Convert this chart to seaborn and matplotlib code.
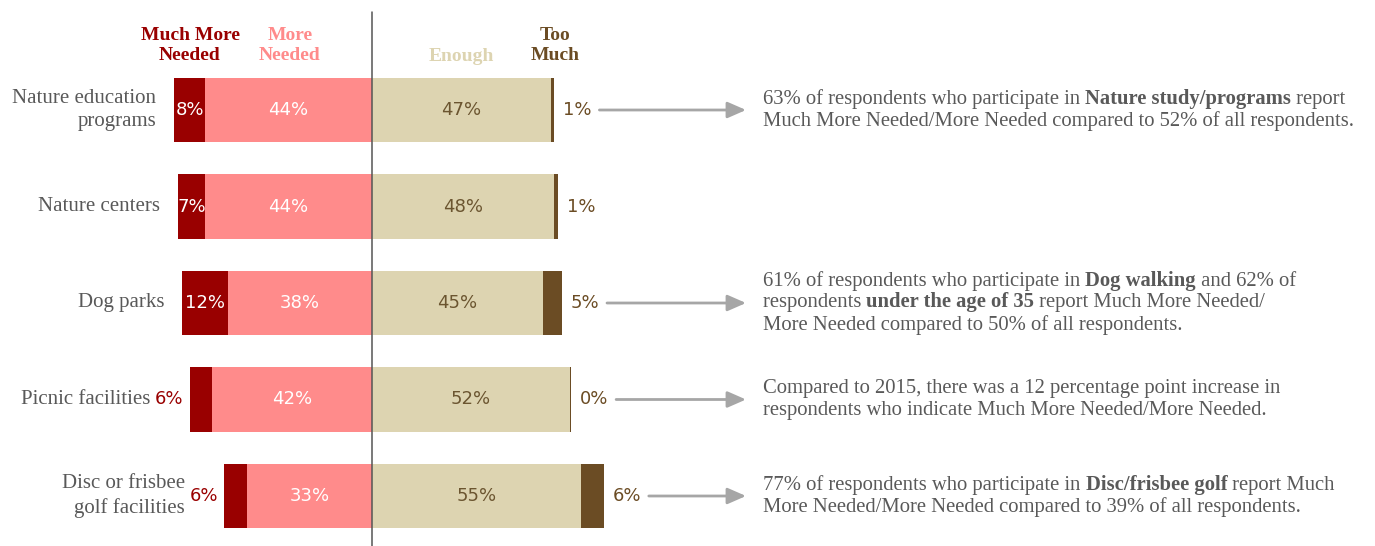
import matplotlib
matplotlib.use("Agg")
import matplotlib.pyplot as plt
import seaborn as sns
import pandas as pd

categories = ["Nature education\nprograms", "Nature centers", "Dog parks",
              "Picnic facilities", "Disc or frisbee\ngolf facilities"]
much_more_needed = [8, 7, 12, 6, 6]
more_needed = [44, 44, 38, 42, 33]
enough = [47, 48, 45, 52, 55]
too_much = [1, 1, 5, 0.4, 6]

header_labels = ["Much More\nNeeded", "More\nNeeded", "Enough", "Too\nMuch"]

notes = {
    0: [[("63% of respondents who participate in ", False), ("Nature study/programs", True), (" report", False)],
        [("Much More Needed/More Needed compared to 52% of all respondents.", False)]],
    2: [[("61% of respondents who participate in ", False), ("Dog walking", True), (" and 62% of", False)],
        [("respondents ", False), ("under the age of 35", True), (" report Much More Needed/", False)],
        [("More Needed compared to 50% of all respondents.", False)]],
    3: [[("Compared to 2015, there was a 12 percentage point increase in", False)],
        [("respondents who indicate Much More Needed/More Needed.", False)]],
    4: [[("77% of respondents who participate in ", False), ("Disc/frisbee golf", True), (" report Much", False)],
        [("More Needed/More Needed compared to 39% of all respondents.", False)]],
}

C_MMN = "#990000"
C_MN = "#FF8B8B"
C_EN = "#DDD4B1"
C_TM = "#6B4C24"
C_TXT = "#595959"
C_ENTXT = "#6B5530"
C_ARROW = "#A6A6A6"

SERIF = "Liberation Serif"
SANS = "DejaVu Sans"

sns.set_theme(style="white")
W, H = 1375, 546
fig = plt.figure(figsize=(W / 100, H / 100), dpi=100)
ax = fig.add_axes([0, 0, 1, 1])

df = pd.DataFrame({"cat": categories, "mmn": much_more_needed, "mn": more_needed,
                   "en": enough, "tm": too_much})
df["left_total"] = -(df["mmn"] + df["mn"])
df["left_mn"] = -df["mn"]
df["right_total"] = df["en"] + df["tm"]

BW = 0.67
common = dict(y="cat", orient="h", width=BW, saturation=1, linewidth=0, errorbar=None, ax=ax)
sns.barplot(data=df, x="left_total", color=C_MMN, **common)
sns.barplot(data=df, x="left_mn", color=C_MN, **common)
sns.barplot(data=df, x="right_total", color=C_TM, **common)
sns.barplot(data=df, x="en", color=C_EN, **common)

PX = 3.8          # pixels per percent
X0 = 372          # pixel of zero line
ROW0, ROWH = 110, 96.5

ax.set_xlim(-X0 / PX, (W - X0) / PX)
ax.set_ylim((H - ROW0) / ROWH, -ROW0 / ROWH)
ax.axis("off")

def py(ypx):
    return (ypx - ROW0) / ROWH

def pxx(xpx):
    return (xpx - X0) / PX

# center line
ax.plot([0, 0], [py(12), py(H)], color="#555555", lw=1.1, zorder=5)

pct_fs = 13
for i, r in df.iterrows():
    total_left = r["mmn"] + r["mn"]
    ax.text(-r["mn"] / 2, i, f"{r['mn']:.0f}%", color="white", ha="center", va="center",
            fontsize=pct_fs, family=SANS)
    if r["mmn"] >= 7:
        ax.text(-(r["mn"] + r["mmn"] / 2), i, f"{r['mmn']:.0f}%", color="white", ha="center",
                va="center", fontsize=pct_fs, family=SANS)
        cat_off = -18
    else:
        ax.annotate(f"{r['mmn']:.0f}%", xy=(-total_left, i), xytext=(-6, 0), textcoords="offset pixels",
                    color=C_MMN, ha="right", va="center", fontsize=pct_fs, family=SANS)
        cat_off = -39
    ax.annotate(r["cat"], xy=(-total_left, i), xytext=(cat_off, 0), textcoords="offset pixels",
                color=C_TXT, ha="right", va="center", fontsize=15, family=SERIF,
                multialignment="right", linespacing=1.3)
    ax.text(r["en"] / 2, i, f"{r['en']:.0f}%", color=C_ENTXT, ha="center", va="center",
            fontsize=pct_fs, family=SANS)
    ax.annotate(f"{r['tm']:.0f}%", xy=(r["right_total"], i), xytext=(9, 0), textcoords="offset pixels",
                color=C_TM, ha="left", va="center", fontsize=pct_fs, family=SANS)

# headers
hdr_pos = [(190, 45.5, C_MMN), (290, 45.5, C_MN), (461, 56, C_EN), (555, 45.5, C_TM)]
for lab, (xp, yp, c) in zip(header_labels, hdr_pos):
    ax.text(pxx(xp), py(yp), lab, color=c, ha="center", va="center", fontsize=14,
            fontweight="bold", family=SERIF, linespacing=1.3)

# notes with arrows
for i, lines in notes.items():
    r = df.iloc[i]
    start = r["right_total"] + 45 / PX
    ax.annotate("", xy=(pxx(746), i), xytext=(start, i),
                arrowprops=dict(arrowstyle="-|>,head_length=0.8,head_width=0.35", color=C_ARROW,
                                lw=2, shrinkA=0, shrinkB=0, mutation_scale=14))
    n = len(lines)
    for k, segs in enumerate(lines):
        yline = i + (k - (n - 1) / 2) * 22 / ROWH
        prev = None
        for txt, bold in segs:
            kw = dict(color=C_TXT, fontsize=14.9, family=SERIF,
                      fontweight="bold" if bold else "normal")
            if prev is None:
                prev = ax.text(pxx(763), yline, txt, ha="left", va="center", **kw)
            else:
                prev = ax.annotate(txt, xy=(1, 0), xycoords=prev, ha="left", va="bottom", **kw)

fig.savefig("out.png", dpi=100)
